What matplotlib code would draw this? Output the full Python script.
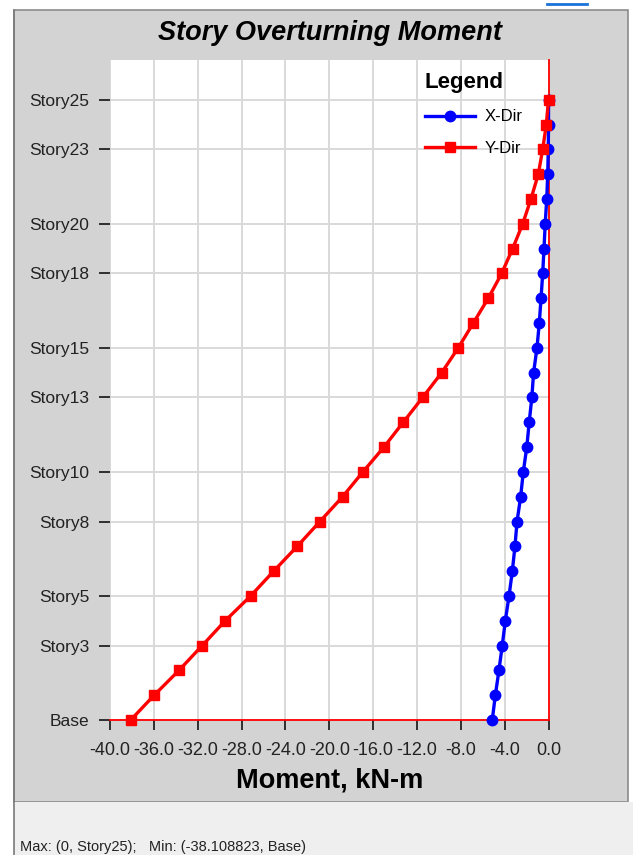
import matplotlib
matplotlib.use('Agg')
from matplotlib import pyplot as plt
from matplotlib.patches import Rectangle
from matplotlib.lines import Line2D

plt.rcParams['font.family'] = ['Liberation Sans', 'DejaVu Sans']

# story levels, Base = 0 .. Story25 = 25
levels = list(range(26))
tick_levels = [0, 3, 5, 8, 10, 13, 15, 18, 20, 23, 25]
tick_names = ['Base', 'Story3', 'Story5', 'Story8', 'Story10', 'Story13',
              'Story15', 'Story18', 'Story20', 'Story23', 'Story25']

# overturning moment, kN-m (Base .. Story25)
x_dir = [-5.13, -4.85, -4.52, -4.22, -3.94, -3.60, -3.30, -3.06, -2.87, -2.54,
         -2.30, -1.98, -1.76, -1.52, -1.36, -1.05, -0.84, -0.68, -0.53, -0.41,
         -0.30, -0.16, -0.07, -0.02, 0.0, 0.0]
y_dir = [-38.108823, -35.97, -33.71, -31.59, -29.49, -27.17, -25.07, -22.92,
         -20.85, -18.78, -16.93, -15.01, -13.25, -11.48, -9.74, -8.23, -6.86,
         -5.49, -4.27, -3.27, -2.35, -1.60, -0.93, -0.53, -0.20, 0.0]
x_ticks = [-40, -36, -32, -28, -24, -20, -16, -12, -8, -4, 0]

W, H = 633, 855
fig = plt.figure(figsize=(W / 100, H / 100), dpi=100)
fig.patch.set_facecolor('white')

def px(x0, y0, w, h):
    # pixel box (top-left origin) -> figure fraction
    return (x0 / W, 1 - (y0 + h) / H, w / W, h / H)

# window chrome: grey chart panel and lighter status strip
x0, y0, w, h = px(14, 10, 614, 792)
fig.patches.append(Rectangle((x0, y0), w, h, transform=fig.transFigure,
                             facecolor='#d3d3d3', edgecolor='#8c8c8c', lw=1.2,
                             zorder=-10))
x0, y0, w, h = px(14, 802, 619, 60)
fig.patches.append(Rectangle((x0, y0), w, h, transform=fig.transFigure,
                             facecolor='#efefef', edgecolor='none', zorder=-10))
fig.add_artist(Line2D([14 / W, 14 / W], [0, 1 - 10 / H], transform=fig.transFigure,
                      color='#7a7a7a', lw=1.2, zorder=-5))
fig.add_artist(Line2D([547 / W, 587 / W], [1 - 4 / H, 1 - 4 / H], transform=fig.transFigure,
                      color='#1a73d9', lw=2, zorder=-5))

ax = fig.add_axes(px(110, 60, 438.5, 660))
ax.set_facecolor('white')

ax.plot(x_dir, levels, color='#0000ff', lw=2.4, marker='o', ms=7.5,
        label='X-Dir', clip_on=False, zorder=3)
ax.plot(y_dir, levels, color='#ff0000', lw=2.4, marker='s', ms=7.5,
        label='Y-Dir', clip_on=False, zorder=4)

ax.set_xlim(-40, 0)
ax.set_ylim(0, 26.6)
ax.set_xticks(x_ticks)
ax.set_xticklabels([f'{v:.1f}' for v in x_ticks], fontsize=13)
ax.set_yticks(tick_levels)
ax.set_yticklabels(tick_names, fontsize=12.5)
ax.tick_params(axis='x', colors='#222222', length=7, width=1.3, pad=9)
ax.tick_params(axis='y', colors='#222222', length=8, width=1.3, pad=7)
ax.grid(True, color='#d9d9d9', lw=1.4)
ax.set_axisbelow(True)

for side in ['left', 'top']:
    ax.spines[side].set_visible(False)
for side in ['right', 'bottom']:
    ax.spines[side].set_color('#ff0000')
    ax.spines[side].set_linewidth(1.3)

ax.set_xlabel('Moment, kN-m', fontsize=19.5, fontweight='bold', labelpad=6)

leg = ax.legend(loc='upper left', bbox_to_anchor=(0.691, 1.0), frameon=False,
                title='Legend', fontsize=12, handlelength=3.0, handletextpad=0.6,
                labelspacing=1.0, alignment='left', borderaxespad=0.3)
leg.get_title().set_fontsize(16)
leg.get_title().set_fontweight('bold')

fig.text(330 / W, 1 - 33 / H, 'Story Overturning Moment', ha='center', va='center',
         fontsize=19.5, fontweight='bold', fontstyle='italic')
fig.text(20 / W, 1 - 847 / H, 'Max: (0, Story25);   Min: (-38.108823, Base)',
         ha='left', va='center', fontsize=10.5, color='#222222')

fig.savefig('out.png', dpi=100)
